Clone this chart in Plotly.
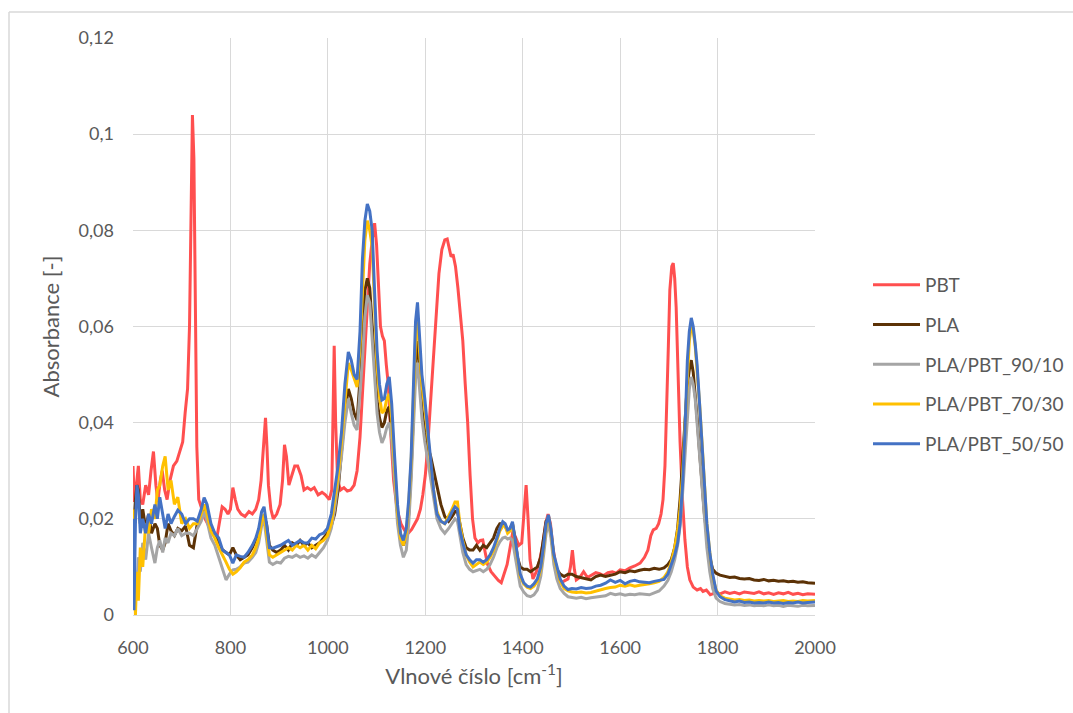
import plotly.graph_objects as go

# ---- FTIR spectra: wavenumber grid shared by PLA and the PLA/PBT blends ----
X_BLEND = [
    600, 602, 605, 608, 611, 615, 620, 626, 632, 638,
    645, 650, 655, 661, 666, 672, 678, 685, 692, 700,
    708, 716, 724, 732, 740, 746, 752, 760, 768, 776,
    784, 791, 798, 805, 812, 820, 828, 836, 845, 852,
    858, 864, 869, 874, 880, 887, 895, 903, 911, 919,
    927, 935, 943, 951, 959, 967, 975, 983, 991, 999,
    1007, 1014, 1021, 1028, 1035, 1042, 1048, 1054, 1060, 1066,
    1071, 1076, 1081, 1086, 1091, 1096, 1101, 1106, 1111, 1116,
    1121, 1126, 1131, 1137, 1143, 1149, 1155, 1161, 1166, 1171,
    1176, 1180, 1184, 1188, 1193, 1199, 1205, 1211, 1217, 1224,
    1232, 1240, 1248, 1255, 1261, 1266, 1271, 1277, 1284, 1291,
    1298, 1305, 1312, 1319, 1326, 1333, 1340, 1347, 1353, 1359,
    1364, 1369, 1374, 1379, 1384, 1389, 1395, 1402, 1409, 1416,
    1423, 1430, 1437, 1443, 1448, 1453, 1458, 1464, 1470, 1477,
    1485, 1493, 1501, 1510, 1520, 1530, 1540, 1550, 1560, 1570,
    1580, 1590, 1600, 1610, 1620, 1630, 1640, 1650, 1660, 1670,
    1680, 1690, 1698, 1705, 1712, 1718, 1723, 1728, 1733, 1738,
    1742, 1746, 1750, 1754, 1758, 1763, 1768, 1773, 1778, 1784,
    1790, 1797, 1805, 1815, 1825, 1835, 1845, 1855, 1865, 1875,
    1885, 1895, 1905, 1915, 1925, 1935, 1945, 1955, 1965, 1975,
    1985, 2000,
]

PLA = [
    0.022, 0.019, 0.024, 0.027, 0.026, 0.019, 0.022, 0.018, 0.021, 0.017,
    0.019, 0.018, 0.0145, 0.0135, 0.015, 0.019, 0.0175, 0.0165, 0.018, 0.0175,
    0.0185, 0.0145, 0.014, 0.019, 0.021, 0.023, 0.021, 0.018, 0.0165, 0.015,
    0.0135, 0.013, 0.0125, 0.014, 0.0125, 0.0115, 0.012, 0.0125, 0.014, 0.0155,
    0.017, 0.0195, 0.0205, 0.019, 0.0145, 0.0135, 0.013, 0.0135, 0.0145, 0.0135,
    0.015, 0.0145, 0.0155, 0.0145, 0.015, 0.014, 0.0145, 0.015, 0.016, 0.017,
    0.0185, 0.021, 0.026, 0.034, 0.042, 0.047, 0.045, 0.042, 0.0405, 0.049,
    0.056, 0.0675, 0.070, 0.068, 0.060, 0.051, 0.0445, 0.041, 0.039, 0.040,
    0.0425, 0.0433, 0.038, 0.029, 0.021, 0.0165, 0.0145, 0.016, 0.021, 0.030,
    0.042, 0.053, 0.057, 0.050, 0.043, 0.038, 0.035, 0.033, 0.030, 0.0265,
    0.023, 0.0205, 0.0195, 0.0205, 0.0215, 0.0215, 0.019, 0.016, 0.014, 0.0135,
    0.0135, 0.0145, 0.0135, 0.0145, 0.014, 0.015, 0.016, 0.018, 0.019, 0.019,
    0.0185, 0.0175, 0.018, 0.019, 0.016, 0.012, 0.010, 0.0095, 0.0095, 0.009,
    0.0095, 0.010, 0.012, 0.016, 0.0195, 0.020, 0.017, 0.012, 0.0095, 0.0085,
    0.008, 0.0085, 0.0085, 0.008, 0.0078, 0.0075, 0.0073, 0.008, 0.0083, 0.008,
    0.0083, 0.0085, 0.009, 0.0088, 0.0092, 0.009, 0.0093, 0.0095, 0.0094, 0.0097,
    0.0095, 0.0098, 0.0105, 0.0115, 0.014, 0.018, 0.024, 0.032, 0.041, 0.048,
    0.051, 0.053, 0.0505, 0.046, 0.041, 0.034, 0.027, 0.021, 0.0165, 0.012,
    0.0095, 0.0087, 0.0083, 0.008, 0.0078, 0.0079, 0.0076, 0.0075, 0.0076, 0.0073,
    0.0072, 0.0074, 0.0071, 0.0072, 0.007, 0.0071, 0.0069, 0.007, 0.0068, 0.0069,
    0.0067, 0.0066,
]

BLEND_90_10 = [
    0.020, 0.012, 0.003, 0.006, 0.012, 0.009, 0.015, 0.0115, 0.017, 0.014,
    0.0108, 0.014, 0.0155, 0.013, 0.016, 0.015, 0.017, 0.0165, 0.018, 0.0165,
    0.017, 0.017, 0.0165, 0.018, 0.0195, 0.0215, 0.0195, 0.016, 0.0145, 0.012,
    0.0095, 0.0073, 0.0085, 0.0094, 0.0095, 0.010, 0.0108, 0.011, 0.012, 0.013,
    0.015, 0.0185, 0.0198, 0.016, 0.011, 0.0105, 0.011, 0.0108, 0.0118, 0.0122,
    0.012, 0.0125, 0.012, 0.0123, 0.0118, 0.0125, 0.012, 0.013, 0.014, 0.0155,
    0.018, 0.022, 0.027, 0.033, 0.040, 0.045, 0.042, 0.0395, 0.0385, 0.046,
    0.053, 0.062, 0.0665, 0.065, 0.058, 0.050, 0.042, 0.038, 0.0358, 0.037,
    0.039, 0.040, 0.0365, 0.028, 0.019, 0.0145, 0.012, 0.0135, 0.019, 0.028,
    0.040, 0.049, 0.0525, 0.047, 0.041, 0.036, 0.032, 0.028, 0.024, 0.020,
    0.018, 0.017, 0.018, 0.019, 0.020, 0.0195, 0.0165, 0.013, 0.0105, 0.0095,
    0.009, 0.0093, 0.0095, 0.009, 0.0095, 0.0105, 0.012, 0.014, 0.0152, 0.016,
    0.0162, 0.0158, 0.016, 0.0155, 0.0125, 0.009, 0.006, 0.0048, 0.004, 0.0038,
    0.0042, 0.0052, 0.008, 0.0125, 0.017, 0.019, 0.016, 0.0105, 0.0075, 0.0055,
    0.0045, 0.0038, 0.0036, 0.0035, 0.0037, 0.0034, 0.0036, 0.0037, 0.0038, 0.004,
    0.0045, 0.0042, 0.0044, 0.0041, 0.0043, 0.0042, 0.0044, 0.0043, 0.0042, 0.0046,
    0.005, 0.006, 0.0072, 0.009, 0.0115, 0.0145, 0.0185, 0.025, 0.033, 0.042,
    0.047, 0.0495, 0.048, 0.045, 0.040, 0.034, 0.027, 0.020, 0.014, 0.009,
    0.0055, 0.0035, 0.0028, 0.0024, 0.0023, 0.0021, 0.0022, 0.002, 0.0021, 0.0019,
    0.002, 0.0019, 0.0021, 0.0019, 0.002, 0.0018, 0.002, 0.0019, 0.0018, 0.002,
    0.0019, 0.002,
]

BLEND_70_30 = [
    0.022, 0.012, 0.000, 0.009, 0.003, 0.014, 0.010, 0.019, 0.017, 0.022,
    0.020, 0.026, 0.027, 0.031, 0.033, 0.026, 0.028, 0.023, 0.0245, 0.019,
    0.020, 0.018, 0.019, 0.019, 0.021, 0.023, 0.021, 0.0175, 0.016, 0.014,
    0.0125, 0.011, 0.0095, 0.0085, 0.009, 0.0098, 0.011, 0.0115, 0.0125, 0.014,
    0.016, 0.0195, 0.021, 0.0175, 0.0125, 0.012, 0.0125, 0.013, 0.0135, 0.014,
    0.0135, 0.0145, 0.014, 0.0145, 0.0135, 0.0145, 0.0138, 0.015, 0.0155, 0.0165,
    0.019, 0.024, 0.029, 0.036, 0.045, 0.0524, 0.051, 0.049, 0.0474, 0.056,
    0.068, 0.078, 0.082, 0.080, 0.0765, 0.064, 0.052, 0.0455, 0.042, 0.0425,
    0.045, 0.046, 0.041, 0.031, 0.0215, 0.016, 0.0145, 0.017, 0.023, 0.032,
    0.046, 0.057, 0.061, 0.055, 0.048, 0.043, 0.037, 0.032, 0.026, 0.0215,
    0.0195, 0.019, 0.0205, 0.022, 0.0235, 0.0235, 0.019, 0.0155, 0.0125, 0.011,
    0.010, 0.0105, 0.011, 0.0105, 0.011, 0.012, 0.0135, 0.0155, 0.0175, 0.0185,
    0.0185, 0.017, 0.0175, 0.019, 0.0155, 0.012, 0.008, 0.0065, 0.0058, 0.0055,
    0.006, 0.007, 0.0095, 0.014, 0.0185, 0.0205, 0.0175, 0.012, 0.0095, 0.007,
    0.0055, 0.005, 0.0048, 0.0047, 0.0048, 0.0046, 0.0047, 0.005, 0.0052, 0.0055,
    0.0057, 0.0058, 0.0062, 0.006, 0.0063, 0.006, 0.0062, 0.0063, 0.0065, 0.0067,
    0.007, 0.0078, 0.009, 0.011, 0.014, 0.0175, 0.022, 0.029, 0.039, 0.051,
    0.057, 0.060, 0.059, 0.056, 0.051, 0.044, 0.036, 0.027, 0.019, 0.013,
    0.008, 0.0052, 0.004, 0.0035, 0.0033, 0.0031, 0.0032, 0.003, 0.0031, 0.0029,
    0.003, 0.0029, 0.003, 0.0028, 0.0029, 0.003, 0.0028, 0.0029, 0.0028, 0.003,
    0.0029, 0.003,
]

BLEND_50_50 = [
    0.020, 0.001, 0.019, 0.027, 0.025, 0.017, 0.020, 0.017, 0.021, 0.019,
    0.023, 0.020, 0.0245, 0.021, 0.018, 0.021, 0.019, 0.0205, 0.0218, 0.021,
    0.019, 0.020, 0.020, 0.0195, 0.022, 0.0244, 0.023, 0.019, 0.017, 0.016,
    0.0135, 0.013, 0.0125, 0.0108, 0.0125, 0.0122, 0.012, 0.013, 0.0145, 0.016,
    0.018, 0.0215, 0.0225, 0.019, 0.014, 0.0139, 0.0142, 0.0145, 0.015, 0.0155,
    0.0145, 0.015, 0.0155, 0.015, 0.015, 0.016, 0.0158, 0.0167, 0.017, 0.018,
    0.021, 0.026, 0.031, 0.038, 0.048, 0.0547, 0.053, 0.050, 0.049, 0.059,
    0.074, 0.082, 0.0855, 0.084, 0.080, 0.067, 0.055, 0.048, 0.0447, 0.045,
    0.048, 0.0495, 0.044, 0.033, 0.023, 0.017, 0.0155, 0.018, 0.024, 0.033,
    0.048, 0.061, 0.065, 0.057, 0.050, 0.045, 0.039, 0.033, 0.026, 0.021,
    0.0195, 0.019, 0.020, 0.0215, 0.0225, 0.022, 0.0177, 0.015, 0.0125, 0.0115,
    0.0108, 0.0115, 0.0115, 0.011, 0.0115, 0.0125, 0.014, 0.016, 0.018, 0.0194,
    0.019, 0.0177, 0.018, 0.0194, 0.016, 0.0125, 0.0085, 0.0067, 0.006, 0.0058,
    0.0065, 0.0075, 0.010, 0.0145, 0.019, 0.0208, 0.0178, 0.0125, 0.010, 0.0075,
    0.006, 0.0053, 0.0055, 0.0054, 0.0057, 0.0055, 0.0056, 0.006, 0.0062, 0.0066,
    0.0073, 0.0068, 0.0072, 0.0065, 0.007, 0.0072, 0.0069, 0.0068, 0.0067, 0.007,
    0.0072, 0.0074, 0.0085, 0.0105, 0.0125, 0.015, 0.019, 0.027, 0.038, 0.053,
    0.059, 0.0618, 0.060, 0.0565, 0.052, 0.044, 0.036, 0.027, 0.019, 0.013,
    0.0085, 0.005, 0.0038, 0.0032, 0.003, 0.0027, 0.0029, 0.0026, 0.0027, 0.0025,
    0.0026, 0.0025, 0.0027, 0.0025, 0.0026, 0.0024, 0.0026, 0.0025, 0.0027, 0.0025,
    0.0026, 0.0027,
]

# ---- PBT spectrum on its own wavenumber grid ----
X_PBT = [
    600, 603, 607, 611, 615, 620, 626, 632, 637, 642,
    647, 651, 656, 660, 665, 670, 676, 683, 690, 696,
    702, 707, 712, 716, 719, 722, 725, 728, 731, 735,
    741, 748, 753, 758, 765, 772, 777, 783, 789, 795,
    800, 805, 810, 815, 822, 830, 838, 845, 852, 858,
    863, 868, 872, 875, 878, 883, 888, 895, 902, 907,
    911, 915, 920, 926, 932, 938, 945, 951, 958, 965,
    972, 980, 988, 995, 1003, 1008, 1011, 1013, 1016, 1020,
    1026, 1033, 1040, 1047, 1054, 1060, 1066, 1071, 1076, 1081,
    1086, 1091, 1096, 1100, 1104, 1108, 1112, 1116, 1120, 1124,
    1129, 1135, 1142, 1150, 1158, 1165, 1172, 1178, 1184, 1190,
    1195, 1200, 1205, 1210, 1216, 1222, 1228, 1234, 1240, 1245,
    1249, 1253, 1257, 1262, 1267, 1272, 1277, 1282, 1287, 1292,
    1297, 1302, 1308, 1313, 1318, 1323, 1328, 1335, 1343, 1350,
    1356, 1362, 1368, 1374, 1380, 1386, 1392, 1398, 1403, 1407,
    1411, 1415, 1421, 1428, 1435, 1441, 1447, 1452, 1457, 1462,
    1468, 1474, 1480, 1487, 1493, 1498, 1502, 1506, 1510, 1517,
    1525, 1533, 1541, 1550, 1558, 1566, 1575, 1584, 1592, 1600,
    1610, 1620, 1630, 1641, 1650, 1657, 1663, 1668, 1674, 1679,
    1684, 1688, 1692, 1696, 1699, 1702, 1706, 1709, 1712, 1715,
    1719, 1723, 1728, 1733, 1738, 1743, 1750, 1758, 1765, 1770,
    1777, 1785, 1795, 1805, 1815, 1825, 1835, 1845, 1855, 1865,
    1875, 1885, 1895, 1905, 1915, 1925, 1935, 1945, 1955, 1965,
    1975, 1985, 2000,
]

PBT = [
    0.031, 0.0235, 0.027, 0.031, 0.024, 0.023, 0.027, 0.025, 0.030, 0.034,
    0.027, 0.0235, 0.028, 0.030, 0.026, 0.024, 0.028, 0.031, 0.032, 0.034,
    0.036, 0.042, 0.047, 0.060, 0.085, 0.104, 0.095, 0.060, 0.035, 0.024,
    0.022, 0.020, 0.019, 0.018, 0.0175, 0.016, 0.019, 0.0225, 0.022, 0.021,
    0.022, 0.0265, 0.024, 0.022, 0.021, 0.0205, 0.0215, 0.021, 0.022, 0.024,
    0.028, 0.036, 0.041, 0.035, 0.027, 0.022, 0.020, 0.021, 0.023, 0.028,
    0.0354, 0.033, 0.027, 0.029, 0.031, 0.031, 0.029, 0.026, 0.0265, 0.026,
    0.0265, 0.025, 0.0255, 0.025, 0.024, 0.026, 0.045, 0.056, 0.040, 0.028,
    0.026, 0.0265, 0.0258, 0.026, 0.027, 0.030, 0.037, 0.046, 0.056, 0.066,
    0.073, 0.078, 0.0815, 0.077, 0.067, 0.060, 0.058, 0.057, 0.052, 0.048,
    0.038, 0.028, 0.022, 0.019, 0.0175, 0.017, 0.0178, 0.019, 0.020, 0.022,
    0.025, 0.029, 0.035, 0.043, 0.053, 0.063, 0.071, 0.076, 0.078, 0.0782,
    0.0765, 0.0745, 0.075, 0.0725, 0.068, 0.063, 0.057, 0.048, 0.040, 0.029,
    0.020, 0.016, 0.015, 0.0155, 0.0156, 0.013, 0.0105, 0.009, 0.008, 0.0072,
    0.0067, 0.0085, 0.0105, 0.014, 0.0175, 0.016, 0.0145, 0.015, 0.021, 0.027,
    0.020, 0.0115, 0.0075, 0.009, 0.0115, 0.0145, 0.019, 0.021, 0.019, 0.014,
    0.0105, 0.0075, 0.0068, 0.0072, 0.0075, 0.010, 0.0135, 0.0095, 0.0073, 0.0078,
    0.009, 0.0078, 0.0082, 0.0088, 0.0086, 0.0082, 0.0088, 0.009, 0.0087, 0.0094,
    0.0092, 0.0098, 0.0102, 0.0108, 0.012, 0.0135, 0.0165, 0.0177, 0.018, 0.019,
    0.021, 0.024, 0.031, 0.043, 0.056, 0.0676, 0.0725, 0.0732, 0.070, 0.064,
    0.050, 0.036, 0.024, 0.0156, 0.010, 0.0073, 0.0058, 0.0052, 0.0055, 0.0049,
    0.0052, 0.0042, 0.0046, 0.0044, 0.0048, 0.0045, 0.0047, 0.0044, 0.0048, 0.0046,
    0.0045, 0.0048, 0.0044, 0.0046, 0.0043, 0.0046, 0.0044, 0.0047, 0.0043, 0.0045,
    0.0042, 0.0044, 0.0043,
]

SERIES = [
    ("PBT", X_PBT, PBT, "#FF4F4F"),
    ("PLA", X_BLEND, PLA, "#5C3206"),
    ("PLA/PBT_90/10", X_BLEND, BLEND_90_10, "#A5A5A5"),
    ("PLA/PBT_70/30", X_BLEND, BLEND_70_30, "#FFC000"),
    ("PLA/PBT_50/50", X_BLEND, BLEND_50_50, "#4472C4"),
]

TEXT = "#595959"
GRID = "#D9D9D9"
FONT = "Lato, 'Open Sans', sans-serif"

fig = go.Figure()
for i, (name, xs, ys, color) in enumerate(SERIES):
    fig.add_trace(go.Scatter(
        x=xs, y=ys, name=name, mode="lines",
        line=dict(color=color, width=3),
        legendgroup=f"g{i}",
    ))

fig.update_layout(
    width=1073, height=713,
    margin=dict(l=133, r=258, t=38, b=98, autoexpand=False),
    paper_bgcolor="white", plot_bgcolor="white",
    separators=", ",
    font=dict(family=FONT, size=18, color=TEXT),
    showlegend=True,
    legend=dict(
        xref="container", yref="container",
        x=868 / 1073, xanchor="left", y=1 - 266 / 713, yanchor="top",
        font=dict(family=FONT, size=19, color=TEXT),
        tracegroupgap=12, itemwidth=47,
        bgcolor="rgba(0,0,0,0)",
    ),
    xaxis=dict(
        range=[600, 2000], dtick=200, tick0=600,
        showgrid=True, gridcolor=GRID, gridwidth=1,
        zeroline=False, showline=True, linecolor=GRID, linewidth=1,
        ticks="", ticklabelstandoff=16,
        tickfont=dict(family=FONT, size=18, color=TEXT),
        title=dict(text="Vlnové číslo [cm<sup>-1</sup>]",
                   font=dict(family=FONT, size=22, color=TEXT), standoff=12),
    ),
    yaxis=dict(
        range=[0, 0.12], dtick=0.02, tick0=0,
        showgrid=True, gridcolor=GRID, gridwidth=1,
        zeroline=False, showline=False,
        ticks="", ticklabelstandoff=18,
        tickfont=dict(family=FONT, size=18, color=TEXT),
        title=dict(text="Absorbance [-]",
                   font=dict(family=FONT, size=22, color=TEXT), standoff=12),
    ),
)

# chart-area frame (top and left edges)
fx = (9 - 133) / 682
fy = 1 + (38 - 12) / 577
fig.add_shape(type="line", xref="paper", yref="paper",
              x0=fx, y0=fy, x1=2.0, y1=fy, line=dict(color=GRID, width=1.5))
fig.add_shape(type="line", xref="paper", yref="paper",
              x0=fx, y0=fy, x1=fx, y1=-0.3, line=dict(color=GRID, width=1.5))

fig.write_html("out.html")
